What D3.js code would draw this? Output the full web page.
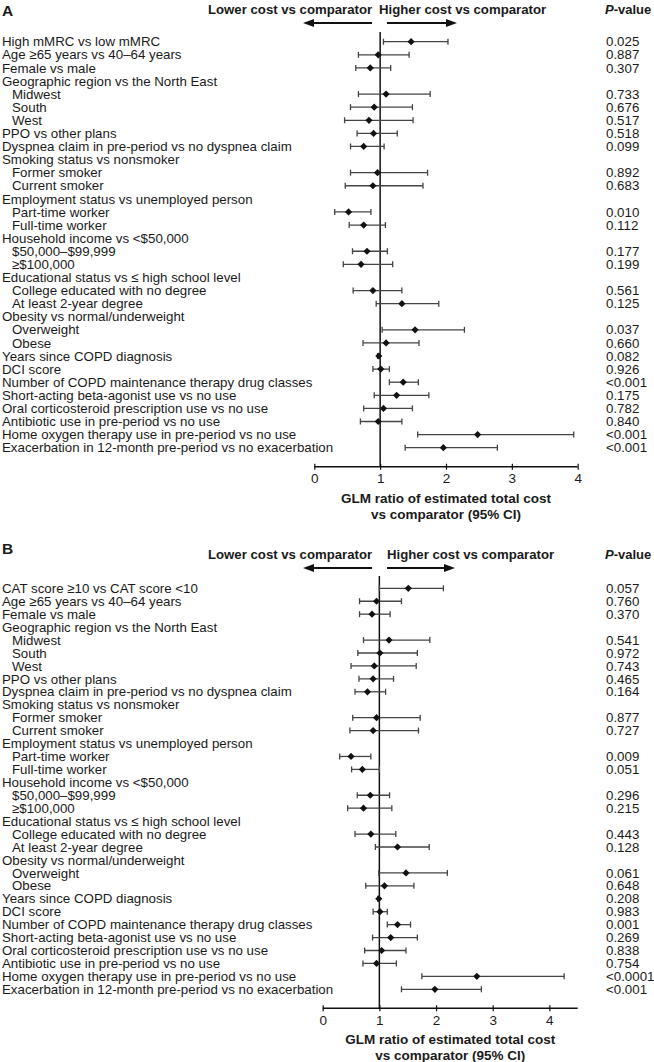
<!DOCTYPE html>
<html><head><meta charset="utf-8">
<script src="https://cdn.jsdelivr.net/npm/d3@7"></script>
<style>
html,body{margin:0;padding:0;background:#fff;}
svg{display:block;font-family:"Liberation Sans",Arial,sans-serif;}
</style></head>
<body>
<svg id="chart" width="654" height="1062"></svg>
<script>
// ---------- DATA ----------
const labelsA = [
  "High mMRC vs low mMRC","Age \u226565 years vs 40\u201364 years","Female vs male",
  "Geographic region vs the North East","Midwest","South","West",
  "PPO vs other plans","Dyspnea claim in pre-period vs no dyspnea claim",
  "Smoking status vs nonsmoker","Former smoker","Current smoker",
  "Employment status vs unemployed person","Part-time worker","Full-time worker",
  "Household income vs <$50,000","$50,000\u2013$99,999","\u2265$100,000",
  "Educational status vs \u2264 high school level","College educated with no degree","At least 2-year degree",
  "Obesity vs normal/underweight","Overweight","Obese",
  "Years since COPD diagnosis","DCI score","Number of COPD maintenance therapy drug classes",
  "Short-acting beta-agonist use vs no use","Oral corticosteroid prescription use vs no use",
  "Antibiotic use in pre-period vs no use","Home oxygen therapy use in pre-period vs no use",
  "Exacerbation in 12-month pre-period vs no exacerbation"
];
const labelsB = ["CAT score \u226510 vs CAT score <10"].concat(labelsA.slice(1));
// 1 = indented sub-row
const indent = [0,0,0,0,1,1,1,0,0,0,1,1,0,1,1,0,1,1,0,1,1,0,1,1,0,0,0,0,0,0,0,0];

const estA = [1.47,0.97,0.85,null,1.09,0.91,0.83,0.90,0.75,null,0.96,0.89,null,0.52,0.75,null,0.80,0.71,null,0.89,1.33,null,1.53,1.09,0.98,1.01,1.35,1.25,1.05,0.97,2.48,1.96];
const loA  = [1.05,0.67,0.63,null,0.67,0.55,0.46,0.65,0.55,null,0.55,0.47,null,0.31,0.53,null,0.58,0.44,null,0.59,0.94,null,1.03,0.74,0.96,0.89,1.14,0.91,0.75,0.70,1.57,1.38];
const hiA  = [2.03,1.44,1.16,null,1.76,1.49,1.50,1.26,1.06,null,1.72,1.65,null,0.86,1.08,null,1.11,1.19,null,1.33,1.89,null,2.28,1.59,1.00,1.14,1.58,1.74,1.49,1.33,3.94,2.78];
const pA = ["0.025","0.887","0.307","","0.733","0.676","0.517","0.518","0.099","","0.892","0.683","","0.010","0.112","","0.177","0.199","","0.561","0.125","","0.037","0.660","0.082","0.926","<0.001","0.175","0.782","0.840","<0.001","<0.001"];

const estB = [1.51,0.95,0.87,null,1.17,1.01,0.91,0.89,0.79,null,0.95,0.89,null,0.50,0.70,null,0.84,0.72,null,0.85,1.32,null,1.47,1.09,0.99,1.01,1.32,1.20,1.04,0.95,2.72,1.98];
const loB  = [1.00,0.65,0.65,null,0.72,0.62,0.50,0.64,0.57,null,0.53,0.48,null,0.30,0.51,null,0.61,0.44,null,0.57,0.93,null,0.99,0.76,0.97,0.89,1.14,0.88,0.74,0.71,1.75,1.39];
const hiB  = [2.13,1.39,1.19,null,1.89,1.67,1.65,1.25,1.11,null,1.72,1.69,null,0.85,1.00,null,1.18,1.22,null,1.29,1.88,null,2.20,1.61,1.00,1.14,1.55,1.67,1.47,1.30,4.26,2.80];
const pB = ["0.057","0.760","0.370","","0.541","0.972","0.743","0.465","0.164","","0.877","0.727","","0.009","0.051","","0.296","0.215","","0.443","0.128","","0.061","0.648","0.208","0.983","0.001","0.269","0.838","0.754","<0.0001","<0.001"];

const ticksA = [0,1,2,3,4];
const ticksB = [0,1,2,3,4];
const titleLines = ["GLM ratio of estimated total cost","vs comparator (95% CI)"];
const leftHeader = "Lower cost vs comparator";
const rightHeader = "Higher cost vs comparator";

// ---------- DRAW ----------
const svg = d3.select("#chart");
const FONT = '"Liberation Sans",Arial,sans-serif';
const TXT = "#1a1a1a";

function panel(cfg){
  const g = svg.append("g");
  const x = d3.scaleLinear().domain(cfg.domain).range(cfg.xRange);
  const idx = d3.range(cfg.labels.length);
  const y = d3.scalePoint().domain(idx).range(cfg.yRange);

  // panel letter
  g.append("text").attr("x",2).attr("y",cfg.letterY).attr("font-size",15.5).attr("font-weight","bold")
    .attr("fill",TXT).text(cfg.letter);

  // headers
  g.append("text").attr("x",cfg.leftHX).attr("y",cfg.headY).attr("font-size",13.2).attr("font-weight","bold")
    .attr("fill",TXT).text(leftHeader);
  g.append("text").attr("x",cfg.rightHX).attr("y",cfg.headY).attr("font-size",13.2).attr("font-weight","bold")
    .attr("fill",TXT).text(rightHeader);
  const pv = g.append("text").attr("x",605).attr("y",cfg.headY).attr("font-size",13).attr("font-weight","bold").attr("fill",TXT);
  pv.append("tspan").attr("font-style","italic").text("P");
  pv.append("tspan").text("-value");

  // arrows
  const ah = 11, aw = 4;
  [[cfg.arrowL[1], cfg.arrowL[0]], [cfg.arrowR[0], cfg.arrowR[1]]].forEach(([from,to])=>{
    const dir = to > from ? 1 : -1;
    g.append("line").attr("x1",from).attr("x2",to - dir*ah).attr("y1",cfg.arrowY).attr("y2",cfg.arrowY)
      .attr("stroke","#111").attr("stroke-width",2);
    g.append("path").attr("d",`M${to},${cfg.arrowY} L${to-dir*ah},${cfg.arrowY-aw} L${to-dir*ah},${cfg.arrowY+aw} Z`)
      .attr("fill","#111");
  });

  // reference line at 1
  g.append("line").attr("x1",x(1)).attr("x2",x(1)).attr("y1",cfg.refTop).attr("y2",cfg.axisY)
    .attr("stroke","#111").attr("stroke-width",1.5);

  // labels
  g.selectAll("text.lab").data(idx).enter().append("text").attr("class","lab")
    .attr("x",d=>indent[d]? 12 : 2).attr("y",d=>y(d)).attr("dy","0.35em")
    .attr("font-size",13.3).attr("fill",TXT).text(d=>cfg.labels[d]);

  // p-values
  g.selectAll("text.pv").data(idx).enter().append("text").attr("class","pv")
    .attr("x",606).attr("y",d=>y(d)).attr("dy","0.35em")
    .attr("font-size",13.3).attr("fill",TXT).text(d=>cfg.p[d]);

  // error bars
  const rows = idx.filter(i=>cfg.est[i]!==null);
  const eb = g.selectAll("g.eb").data(rows).enter().append("g").attr("class","eb");
  eb.append("line").attr("x1",d=>x(cfg.lo[d])).attr("x2",d=>x(cfg.hi[d])).attr("y1",d=>y(d)).attr("y2",d=>y(d))
    .attr("stroke","#444").attr("stroke-width",1.3);
  eb.append("line").attr("x1",d=>x(cfg.lo[d])).attr("x2",d=>x(cfg.lo[d])).attr("y1",d=>y(d)-3).attr("y2",d=>y(d)+3)
    .attr("stroke","#444").attr("stroke-width",1.3);
  eb.append("line").attr("x1",d=>x(cfg.hi[d])).attr("x2",d=>x(cfg.hi[d])).attr("y1",d=>y(d)-3).attr("y2",d=>y(d)+3)
    .attr("stroke","#444").attr("stroke-width",1.3);
  eb.append("path").attr("d",d=>{const cx=x(cfg.est[d]), cy=y(d), r=3.6;
      return `M${cx},${cy-r} L${cx+r},${cy} L${cx},${cy+r} L${cx-r},${cy} Z`;})
    .attr("fill","#111");

  // axis
  const axis = d3.axisBottom(x).tickValues(cfg.ticks).tickFormat(d3.format("d")).tickSize(4).tickPadding(3);
  const ag = g.append("g").attr("transform",`translate(0,${cfg.axisY})`).call(axis);
  ag.select(".domain").attr("d",`M${cfg.xRange[0]},0H${cfg.xRange[1]}`).attr("stroke","#111").attr("stroke-width",1.5);
  ag.selectAll(".tick line").attr("stroke","#111").attr("stroke-width",1.2).attr("y1",-3).attr("y2",3);
  ag.selectAll(".tick text").attr("font-size",13.5).attr("font-family",FONT).attr("fill",TXT);

  // axis title
  const cx = (cfg.xRange[0]+cfg.xRange[1])/2;
  titleLines.forEach((t,i)=>{
    g.append("text").attr("x",cx).attr("y",cfg.titleY[i]).attr("dy","0.35em").attr("text-anchor","middle")
      .attr("font-size",13.5).attr("font-weight","bold").attr("fill",TXT).text(t);
  });
}

panel({letter:"A", labels:labelsA, est:estA, lo:loA, hi:hiA, p:pA, ticks:ticksA,
  domain:[0,4], xRange:[314.3,577.7], yRange:[41.7,447.7],
  letterY:15.5, headY:14, leftHX:208, rightHX:379, arrowY:23, arrowL:[303,372], arrowR:[387,457],
  refTop:32, axisY:466.7, titleY:[498,514]});

panel({letter:"B", labels:labelsB, est:estB, lo:loB, hi:hiB, p:pB, ticks:ticksB,
  domain:[0,4.5], xRange:[322.7,577.7], yRange:[588.3,989.3],
  letterY:554, headY:558.5, leftHX:208, rightHX:387, arrowY:568, arrowL:[303,372], arrowR:[387,455],
  refTop:576, axisY:1008.3, titleY:[1039,1055]});
</script>
</body></html>
